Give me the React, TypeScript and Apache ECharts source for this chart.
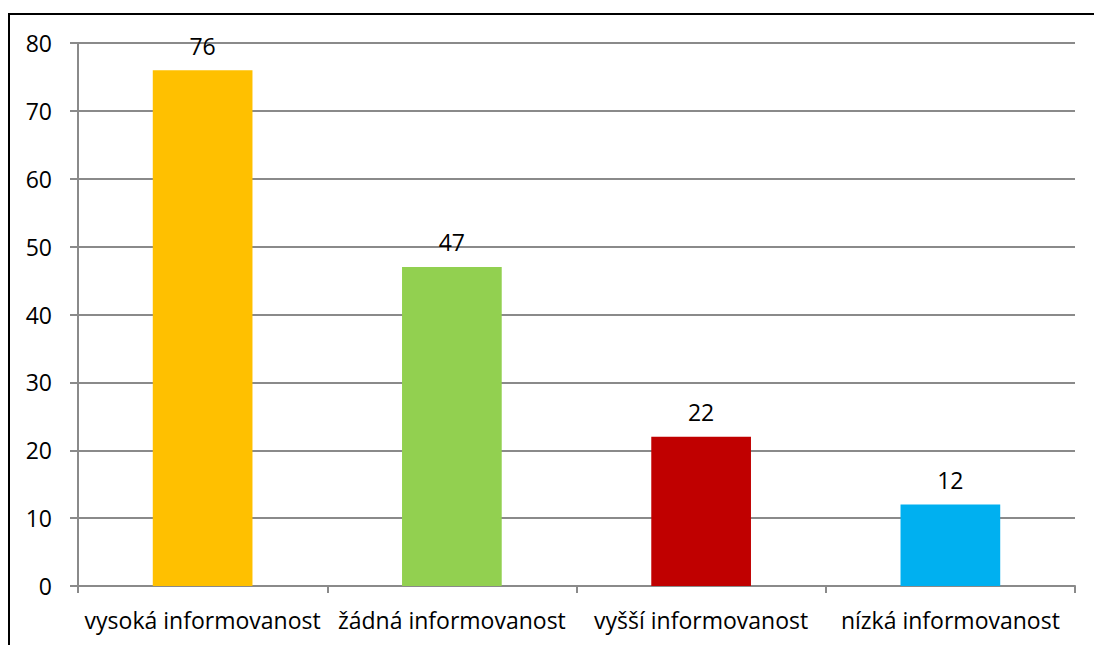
import React, { useEffect, useRef } from "react";
import * as echarts from "echarts";

const categories = ["vysoká informovanost", "žádná informovanost", "vyšší informovanost", "nízká informovanost"];
const values = [76, 47, 22, 12];
const colors = ["#FFC000", "#92D050", "#C00000", "#00B0F0"];
const yTicks = [0, 10, 20, 30, 40, 50, 60, 70, 80];

export default function App() {
  const ref = useRef<HTMLDivElement>(null);
  useEffect(() => {
    const chart = echarts.init(ref.current!, null, { renderer: "svg" });
    const font = "'Open Sans', 'Noto Sans', sans-serif";
    chart.setOption({
      animation: false,
      backgroundColor: "#ffffff",
      graphic: [
        {
          type: "rect",
          shape: { x: 9, y: 14, width: 1200, height: 800 },
          style: { fill: "none", stroke: "#000000", lineWidth: 2 },
          silent: true,
        },
      ],
      grid: { left: 78, right: 19, top: 43, bottom: 59, containLabel: false },
      xAxis: {
        type: "category",
        data: categories,
        axisLine: { lineStyle: { color: "#8a8a8a", width: 2 } },
        axisTick: { show: true, length: 7, lineStyle: { color: "#8a8a8a", width: 2 } },
        axisLabel: { color: "#000", fontSize: 23, fontFamily: font, margin: 22, interval: 0 },
      },
      yAxis: {
        type: "value",
        min: yTicks[0],
        max: yTicks[yTicks.length - 1],
        interval: 10,
        axisLine: { show: true, lineStyle: { color: "#8a8a8a", width: 2 } },
        axisTick: { show: true, length: 8, lineStyle: { color: "#8a8a8a", width: 2 } },
        splitLine: { lineStyle: { color: "#8a8a8a", width: 2 } },
        axisLabel: { color: "#000", fontSize: 23, fontFamily: font, margin: 26 },
      },
      series: [
        {
          type: "bar",
          barWidth: "40%",
          data: values.map((v, i) => ({ value: v, itemStyle: { color: colors[i] } })),
          label: {
            show: true,
            position: "top",
            distance: 13,
            color: "#000",
            fontSize: 23,
            fontFamily: font,
          },
        },
      ],
    });
    return () => chart.dispose();
  }, []);
  return (
    <div
      ref={ref}
      style={{ position: "fixed", left: 0, top: 0, width: 1094, height: 645 }}
    />
  );
}
